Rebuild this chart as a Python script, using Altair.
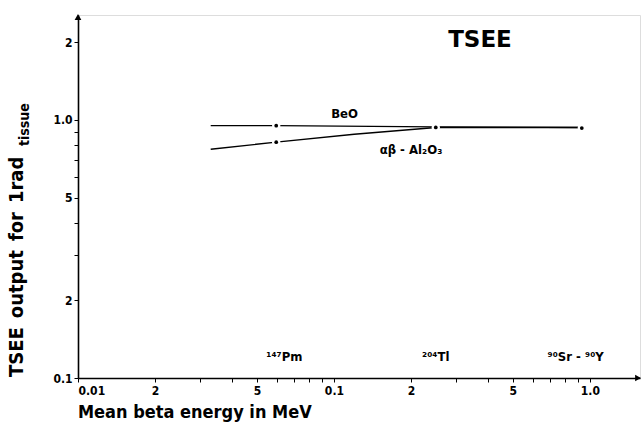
import altair as alt
import pandas as pd

FONT = "DejaVu Sans Condensed"

# Mean beta energy (MeV) and TSEE output for 1 rad (tissue)
beo_energy = [0.033, 0.0595, 0.25, 0.93]
beo_output = [0.95, 0.95, 0.94, 0.935]
al2o3_energy = [0.033, 0.0595, 0.12, 0.25, 0.93]
al2o3_output = [0.77, 0.82, 0.88, 0.935, 0.935]

# measured points at the three beta sources
point_energy = [0.0595, 0.0595, 0.25, 0.93]
point_output = [0.95, 0.82, 0.935, 0.93]

# source labels along the energy axis
source_energy = [0.064, 0.25, 0.88]
source_label = ["¹⁴⁷Pm", "²⁰⁴Tl", "⁹⁰Sr - ⁹⁰Y"]

# axis ticks and their printed labels
x_ticks = [0.01, 0.02, 0.03, 0.04, 0.05, 0.06, 0.07, 0.08, 0.09,
           0.1, 0.2, 0.3, 0.4, 0.5, 0.6, 0.7, 0.8, 0.9, 1.0]
x_tick_text = {10: "0.01", 20: "2", 50: "5", 100: "0.1", 200: "2", 500: "5", 1000: "1.0"}
y_ticks = [0.1, 0.2, 0.3, 0.4, 0.5, 0.6, 0.7, 0.8, 0.9,
           1.0, 2.0]
y_tick_text = {100: "0.1", 200: "2", 500: "5", 1000: "1.0", 2000: "2"}

W, H = 562, 363
X_DOMAIN = [0.01, 1.57]
Y_DOMAIN = [0.1, 2.55]


def label_expr(mapping):
    expr = "''"
    for k, v in mapping.items():
        expr = f"round(datum.value*1000) == {k} ? '{v}' : ({expr})"
    return expr


lines = pd.DataFrame({
    "energy": beo_energy + al2o3_energy,
    "output": beo_output + al2o3_output,
    "material": ["BeO"] * len(beo_energy) + ["Al2O3"] * len(al2o3_energy),
})
points = pd.DataFrame({"energy": point_energy, "output": point_output})
sources = pd.DataFrame({"energy": source_energy, "label": source_label})

x_enc = alt.X(
    "energy:Q",
    scale=alt.Scale(type="log", domain=X_DOMAIN, nice=False),
    axis=alt.Axis(
        values=x_ticks, labelExpr=label_expr(x_tick_text), title=None,
        grid=False, tickSize=4, labelOverlap=False, labelFont=FONT,
        labelFontWeight="bold", labelFontSize=12, labelColor="black",
        domainColor="black", domainWidth=1.6, tickColor="black", labelPadding=3,
    ),
)
y_enc = alt.Y(
    "output:Q",
    scale=alt.Scale(type="log", domain=Y_DOMAIN, nice=False),
    axis=alt.Axis(
        values=y_ticks, labelExpr=label_expr(y_tick_text), title=None,
        grid=False, tickSize=4, labelOverlap=False, labelFont=FONT,
        labelFontWeight="bold", labelFontSize=12, labelColor="black",
        domainColor="black", domainWidth=1.6, tickColor="black", labelPadding=2,
    ),
)

curve = alt.Chart(lines).mark_line(color="black", strokeWidth=1.4).encode(
    x=x_enc, y=y_enc, detail="material:N"
)

# white halo breaking the curves around each measured point, then the dot itself
halo = alt.Chart(points).mark_point(
    filled=True, color="white", size=70, opacity=1
).encode(x="energy:Q", y="output:Q")
dots = alt.Chart(points).mark_point(
    filled=True, color="black", size=14, opacity=1
).encode(x="energy:Q", y="output:Q")

src_text = alt.Chart(sources).mark_text(
    font=FONT, fontWeight="bold", fontSize=13, baseline="bottom", color="black"
).encode(x="energy:Q", y=alt.value(H - 14), text="label:N")

curve_labels = pd.DataFrame({
    "energy": [0.11, 0.2],
    "output": [1.05, 0.765],
    "label": ["BeO", "αβ - Al₂O₃"],
})
curve_text = alt.Chart(curve_labels).mark_text(
    font=FONT, fontWeight="bold", fontSize=13, color="black"
).encode(x="energy:Q", y="output:Q", text="label:N")

arrow_up = alt.Chart(pd.DataFrame({"a": [0]})).mark_point(
    shape="triangle-up", filled=True, color="black", size=45, opacity=1
).encode(x=alt.value(0), y=alt.value(2))
arrow_right = alt.Chart(pd.DataFrame({"a": [0]})).mark_point(
    shape="triangle-right", filled=True, color="black", size=45, opacity=1
).encode(x=alt.value(W - 2), y=alt.value(H))

title_tsee = alt.Chart(pd.DataFrame({"t": ["TSEE"]})).mark_text(
    font="DejaVu Sans", fontWeight="bold", fontSize=23, color="black"
).encode(x=alt.value(402), y=alt.value(25), text="t:N")

# rotated y title with a subscript, words set apart by en spaces
y_title = alt.Chart(pd.DataFrame({"t": ["TSEE\u2002output\u2002for\u20021rad"]})).mark_text(
    font=FONT, fontWeight="bold", fontSize=20, angle=270, align="left",
    baseline="middle", color="black",
).encode(x=alt.value(-61), y=alt.value(362), text="t:N")
y_title_sub = alt.Chart(pd.DataFrame({"t": ["tissue"]})).mark_text(
    font=FONT, fontWeight="bold", fontSize=14, angle=270, align="left",
    baseline="middle", color="black",
).encode(x=alt.value(-53), y=alt.value(131), text="t:N")

x_title = alt.Chart(pd.DataFrame({"t": ["Mean beta energy in MeV"]})).mark_text(
    font=FONT, fontWeight="bold", fontSize=18, align="left",
    baseline="middle", color="black",
).encode(x=alt.value(0), y=alt.value(H + 35), text="t:N")

chart = alt.layer(
    curve, halo, dots, src_text, curve_text, arrow_up, arrow_right,
    title_tsee, y_title, y_title_sub, x_title,
).properties(
    width=W, height=H,
    autosize=alt.AutoSizeParams(type="none"),
    padding={"left": 78, "top": 15, "right": 4, "bottom": 51},
).configure_view(stroke=None).configure(background="white")

chart.save("out.html", embed_options={"renderer": "svg", "actions": False})
